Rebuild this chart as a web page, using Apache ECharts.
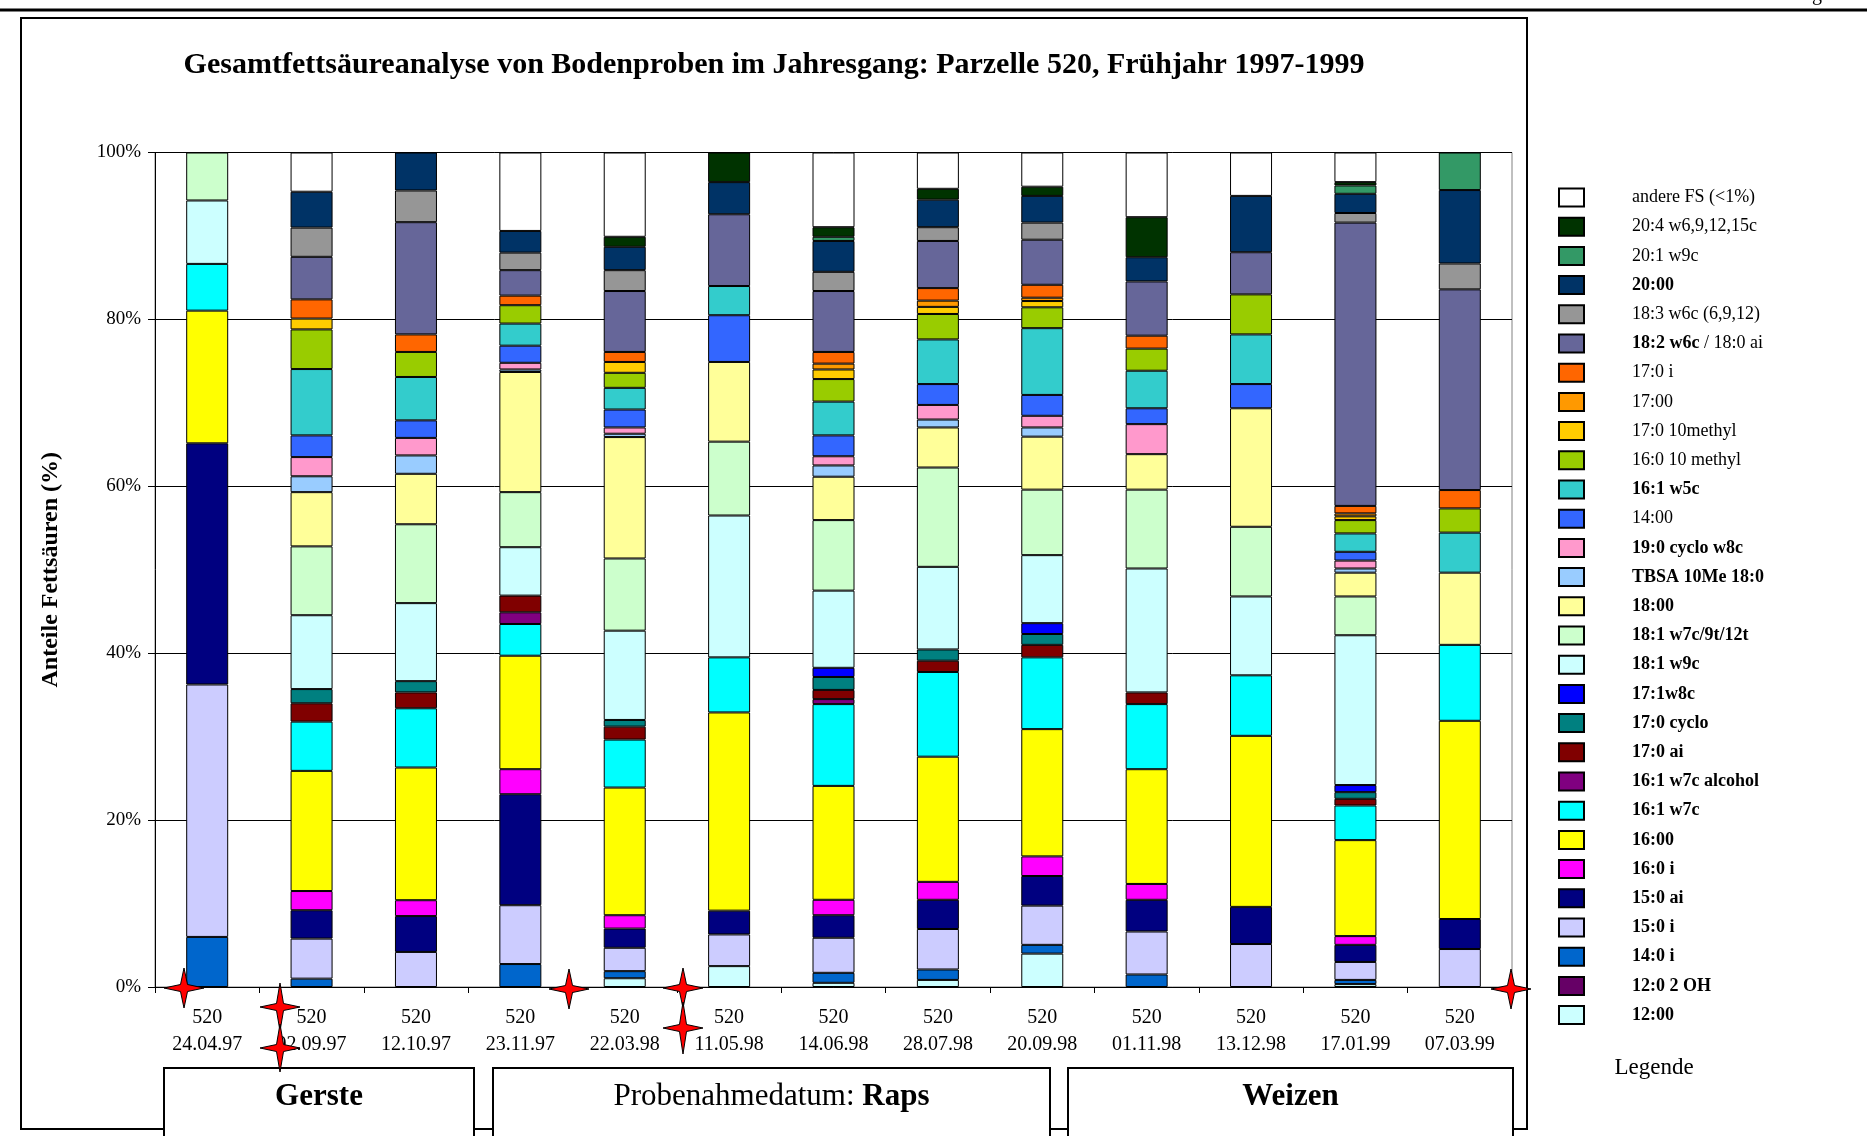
<!DOCTYPE html>
<html>
<head>
<meta charset="utf-8">
<script src="https://cdn.jsdelivr.net/npm/echarts@6/dist/echarts.min.js"></script>
<style>
  html, body { margin: 0; padding: 0; background: #fff; }
  #chart { width: 1867px; height: 1136px; }
</style>
</head>
<body>
<div id="chart"></div>
<script>
// Probenahmedaten (Parzelle 520)
const plotId = '520';
const sampleDates = ['24.04.97', '02.09.97', '12.10.97', '23.11.97', '22.03.98', '11.05.98', '14.06.98',
  '28.07.98', '20.09.98', '01.11.98', '13.12.98', '17.01.99', '07.03.99'];

// Anteile (%) je Fettsäure, von unten nach oben gestapelt
const s12_00    = [0, 0, 0, 0, 1.05, 2.5, 0.5, 0.85, 4.0, 0, 0, 0.35, 0];
const s12_0_2OH = [0, 0, 0, 0, 0, 0, 0, 0, 0, 0, 0, 0, 0];
const s14_0i    = [6.0, 1.0, 0, 2.75, 0.85, 0, 1.2, 1.25, 1.05, 1.5, 0, 0.5, 0];
const s15_0i    = [30.25, 4.8, 4.2, 7.05, 2.8, 3.8, 4.2, 4.85, 4.7, 5.15, 5.15, 2.15, 4.55];
const s15_0ai   = [28.9, 3.4, 4.3, 13.3, 2.3, 2.85, 2.7, 3.5, 3.55, 3.8, 4.45, 2.05, 3.6];
const s16_0i    = [0, 2.3, 1.9, 3.0, 1.6, 0, 1.85, 2.15, 2.35, 1.9, 0, 1.05, 0];
const s16_00    = [15.9, 14.4, 15.9, 13.6, 15.3, 23.75, 13.65, 15.0, 15.25, 13.75, 20.5, 11.5, 23.75];
const s16_1w7c  = [5.6, 5.9, 7.1, 3.8, 5.75, 6.6, 9.8, 10.15, 8.6, 7.8, 7.25, 4.15, 9.1];
const s16_1alc  = [0, 0, 0, 1.4, 0, 0, 0.6, 0, 0, 0, 0, 0, 0];
const s17_0ai   = [0, 2.2, 1.9, 2.0, 1.55, 0, 1.1, 1.35, 1.5, 1.4, 0, 0.8, 0];
const s17_0cyc  = [0, 1.7, 1.35, 0, 0.8, 0, 1.55, 1.35, 1.3, 0, 0, 0.8, 0];
const s17_1w8c  = [0, 0, 0, 0, 0, 0, 1.1, 0, 1.3, 0, 0, 0.85, 0];
const s18_1w9c  = [7.6, 8.85, 9.35, 5.8, 10.7, 17.0, 9.25, 9.9, 8.15, 14.85, 9.45, 17.95, 0];
const s18_1w7c  = [5.75, 8.25, 9.45, 6.6, 8.65, 8.85, 8.45, 11.9, 7.85, 9.45, 8.35, 4.65, 0];
const s18_00    = [0, 6.5, 6.05, 14.4, 14.55, 9.55, 5.2, 4.8, 6.35, 4.25, 14.2, 2.85, 8.65];
const sTBSA     = [0, 1.9, 2.2, 0.3, 0.4, 0, 1.35, 0.95, 1.1, 0, 0, 0.5, 0];
const s19_0cyc  = [0, 2.3, 2.1, 0.8, 0.75, 0, 1.1, 1.75, 1.4, 3.6, 0, 0.95, 0];
const s14_00    = [0, 2.6, 2.1, 2.05, 2.15, 5.6, 2.5, 2.5, 2.5, 1.9, 2.9, 1.05, 0];
const s16_1w5c  = [0, 7.95, 5.2, 2.65, 2.6, 3.5, 4.05, 5.35, 8.0, 4.5, 5.95, 2.2, 4.8];
const s16_0_10m = [0, 4.75, 3.0, 2.2, 1.8, 0, 2.7, 3.05, 2.5, 2.65, 4.8, 1.6, 2.9];
const s17_0_10m = [0, 1.3, 0, 0, 1.3, 0, 1.15, 0.85, 0.75, 0, 0, 0.45, 0];
const s17_00    = [0, 0, 0, 0, 0, 0, 0.7, 0.75, 0.4, 0, 0, 0.35, 0];
const s17_0i    = [0, 2.3, 2.1, 1.15, 1.2, 0, 1.4, 1.5, 1.55, 1.55, 0, 0.9, 2.2];
const s18_2     = [0, 5.1, 13.45, 3.05, 7.3, 8.6, 7.3, 5.65, 5.4, 6.5, 5.05, 33.95, 24.05];
const s18_3     = [0, 3.5, 3.8, 2.1, 2.5, 0, 2.3, 1.65, 2.05, 0, 0, 1.15, 3.1];
const s20_00    = [0, 4.3, 4.55, 2.6, 2.8, 3.85, 3.7, 3.3, 3.2, 2.9, 6.75, 2.3, 8.8];
const s20_1     = [0, 0, 0, 0, 0, 0, 0.5, 0, 0, 0, 0, 1.0, 4.5];
const s20_4     = [0, 0, 0, 0, 1.2, 3.55, 1.15, 1.3, 1.1, 4.8, 0, 0.4, 0];
const sAndere   = [0, 4.7, 0, 9.4, 10.1, 0, 8.95, 4.35, 4.1, 7.75, 5.2, 3.55, 0];

// Reihenfolge wie im Stapel (unten -> oben)
const fsNames = ['12:00', '12:0 2 OH', '14:0 i', '15:0 i', '15:0 ai', '16:0 i', '16:00', '16:1 w7c',
  '16:1 w7c alcohol', '17:0 ai', '17:0 cyclo', '17:1w8c', '18:1 w9c', '18:1 w7c/9t/12t', '18:00',
  'TBSA 10Me 18:0', '19:0 cyclo w8c', '14:00', '16:1 w5c', '16:0 10 methyl', '17:0 10methyl', '17:00',
  '17:0 i', '18:2 w6c / 18:0 ai', '18:3 w6c (6,9,12)', '20:00', '20:1 w9c', '20:4 w6,9,12,15c',
  'andere FS (<1%)'];
const fsValues = [s12_00, s12_0_2OH, s14_0i, s15_0i, s15_0ai, s16_0i, s16_00, s16_1w7c, s16_1alc,
  s17_0ai, s17_0cyc, s17_1w8c, s18_1w9c, s18_1w7c, s18_00, sTBSA, s19_0cyc, s14_00, s16_1w5c,
  s16_0_10m, s17_0_10m, s17_00, s17_0i, s18_2, s18_3, s20_00, s20_1, s20_4, sAndere];
const fsColors = ['#CCFFFF', '#660066', '#0066CC', '#CCCCFF', '#000080', '#FF00FF', '#FFFF00', '#00FFFF',
  '#800080', '#800000', '#008080', '#0000FF', '#CCFFFF', '#CCFFCC', '#FFFF99', '#99CCFF', '#FF99CC',
  '#3366FF', '#33CCCC', '#99CC00', '#FFCC00', '#FF9900', '#FF6600', '#666699', '#969696', '#003366',
  '#339966', '#003300', '#FFFFFF'];
// Legendeneinträge in Fettschrift
const boldNames = ['12:00', '12:0 2 OH', '14:0 i', '15:0 i', '15:0 ai', '16:0 i', '16:00', '16:1 w7c',
  '16:1 w7c alcohol', '17:0 ai', '17:0 cyclo', '17:1w8c', '18:1 w9c', '18:1 w7c/9t/12t', '18:00',
  'TBSA 10Me 18:0', '19:0 cyclo w8c', '16:1 w5c', '20:00'];

const FONT = 'Liberation Serif, Times New Roman, serif';

const chart = echarts.init(document.getElementById('chart'));

// kleiner roter Stern (Markierung im Original)
function star(cx, cy, rx, ry) {
  const w = 3.5;
  return {
    type: 'polygon',
    z: 100,
    shape: { points: [[cx, cy - ry], [cx + w, cy - w], [cx + rx, cy], [cx + w, cy + w],
      [cx, cy + ry], [cx - w, cy + w], [cx - rx, cy], [cx - w, cy - w]] },
    style: { fill: '#FF0000', stroke: '#000', lineWidth: 1 }
  };
}

function box(x1, x2, rich) {
  return [
    { type: 'rect', z: 50, shape: { x: x1, y: 1068, width: x2 - x1, height: 90 },
      style: { fill: '#fff', stroke: '#000', lineWidth: 2 } },
    { type: 'text', z: 51, x: (x1 + x2) / 2, y: 1097,
      style: { text: rich, align: 'center', verticalAlign: 'middle', fontFamily: FONT, fontSize: 31,
        fill: '#000', rich: { b: { fontWeight: 'bold', fontSize: 31, fontFamily: FONT } } } }
  ];
}

const series = fsNames.map((name, i) => ({
  name: name,
  type: 'bar',
  stack: 'fs',
  barWidth: 42,
  data: fsValues[i].map(v => (v > 0 ? v : '-')),
  itemStyle: { color: fsColors[i], borderColor: '#000', borderWidth: 1 },
  emphasis: { disabled: true }
}));

const option = {
  animation: false,
  backgroundColor: '#fff',
  grid: { left: 155, right: 355, top: 152.5, bottom: 149, show: true, borderColor: '#808080', borderWidth: 1 },
  xAxis: {
    type: 'category',
    data: sampleDates,
    axisLine: { lineStyle: { color: '#000', width: 1 } },
    axisTick: { show: true, alignWithLabel: false, length: 6, lineStyle: { color: '#000' } },
    axisLabel: {
      interval: 0, margin: 17, color: '#000', fontFamily: FONT, fontSize: 20, lineHeight: 27,
      formatter: v => plotId + '\n' + v
    }
  },
  yAxis: {
    type: 'value', min: 0, max: 100, interval: 20,
    name: 'Anteile Fettsäuren (%)', nameLocation: 'middle', nameGap: 92, nameRotate: 90,
    nameTextStyle: { fontFamily: FONT, fontSize: 24, fontWeight: 'bold', color: '#000' },
    axisLine: { show: true, lineStyle: { color: '#000', width: 1 } },
    axisTick: { show: true, length: 7, lineStyle: { color: '#000' } },
    axisLabel: { formatter: '{value}%', margin: 14, color: '#000', fontFamily: FONT, fontSize: 19 },
    splitLine: { lineStyle: { color: '#000', width: 1 } }
  },
  legend: {
    orient: 'vertical',
    left: 1558,
    top: 187.5,
    padding: 0,
    itemWidth: 25,
    itemHeight: 18,
    itemGap: 9.2,
    icon: 'rect',
    selectedMode: false,
    data: fsNames.slice().reverse(),
    formatter: name => {
      if (name === '18:2 w6c / 18:0 ai') return '{b|18:2 w6c} / 18:0 ai';
      return boldNames.includes(name) ? '{b|' + name + '}' : name;
    },
    textStyle: {
      fontFamily: FONT, fontSize: 18, lineHeight: 18, color: '#000', padding: [0, 0, 0, 43],
      rich: { b: { fontWeight: 'bold', fontFamily: FONT, fontSize: 18, lineHeight: 18 } }
    }
  },
  graphic: [
    { type: 'line', shape: { x1: 0, y1: 10, x2: 1867, y2: 10 }, style: { stroke: '#000', lineWidth: 3 } },
    { type: 'text', x: 1822, y: 5, style: { text: 'Anhang', align: 'right', verticalAlign: 'bottom',
      fontFamily: FONT, fontSize: 20, fill: '#000' } },
    { type: 'rect', shape: { x: 21, y: 18, width: 1506, height: 1111 },
      style: { fill: 'none', stroke: '#000', lineWidth: 2 } },
    { type: 'text', x: 774, y: 65, style: {
      text: 'Gesamtfettsäureanalyse von Bodenproben im Jahresgang: Parzelle 520, Frühjahr 1997-1999',
      align: 'center', verticalAlign: 'middle', fontFamily: FONT, fontSize: 30, fontWeight: 'bold', fill: '#000' } },
    { type: 'text', x: 1654, y: 1068, style: { text: 'Legende', align: 'center', verticalAlign: 'middle',
      fontFamily: FONT, fontSize: 23, fill: '#000' } },
    ...box(164, 474, '{b|Gerste}'),
    ...box(493, 1050, 'Probenahmedatum: {b|Raps}'),
    ...box(1068, 1513, '{b|Weizen}'),
    star(184, 988, 20, 20),
    star(280, 1007, 20, 24),
    star(280, 1048, 20, 24),
    star(569, 989, 20, 20),
    star(683, 988, 20, 20),
    star(683, 1028, 20, 26),
    star(1511, 989, 20, 20)
  ],
  series: series
};

chart.setOption(option);
</script>
</body>
</html>
